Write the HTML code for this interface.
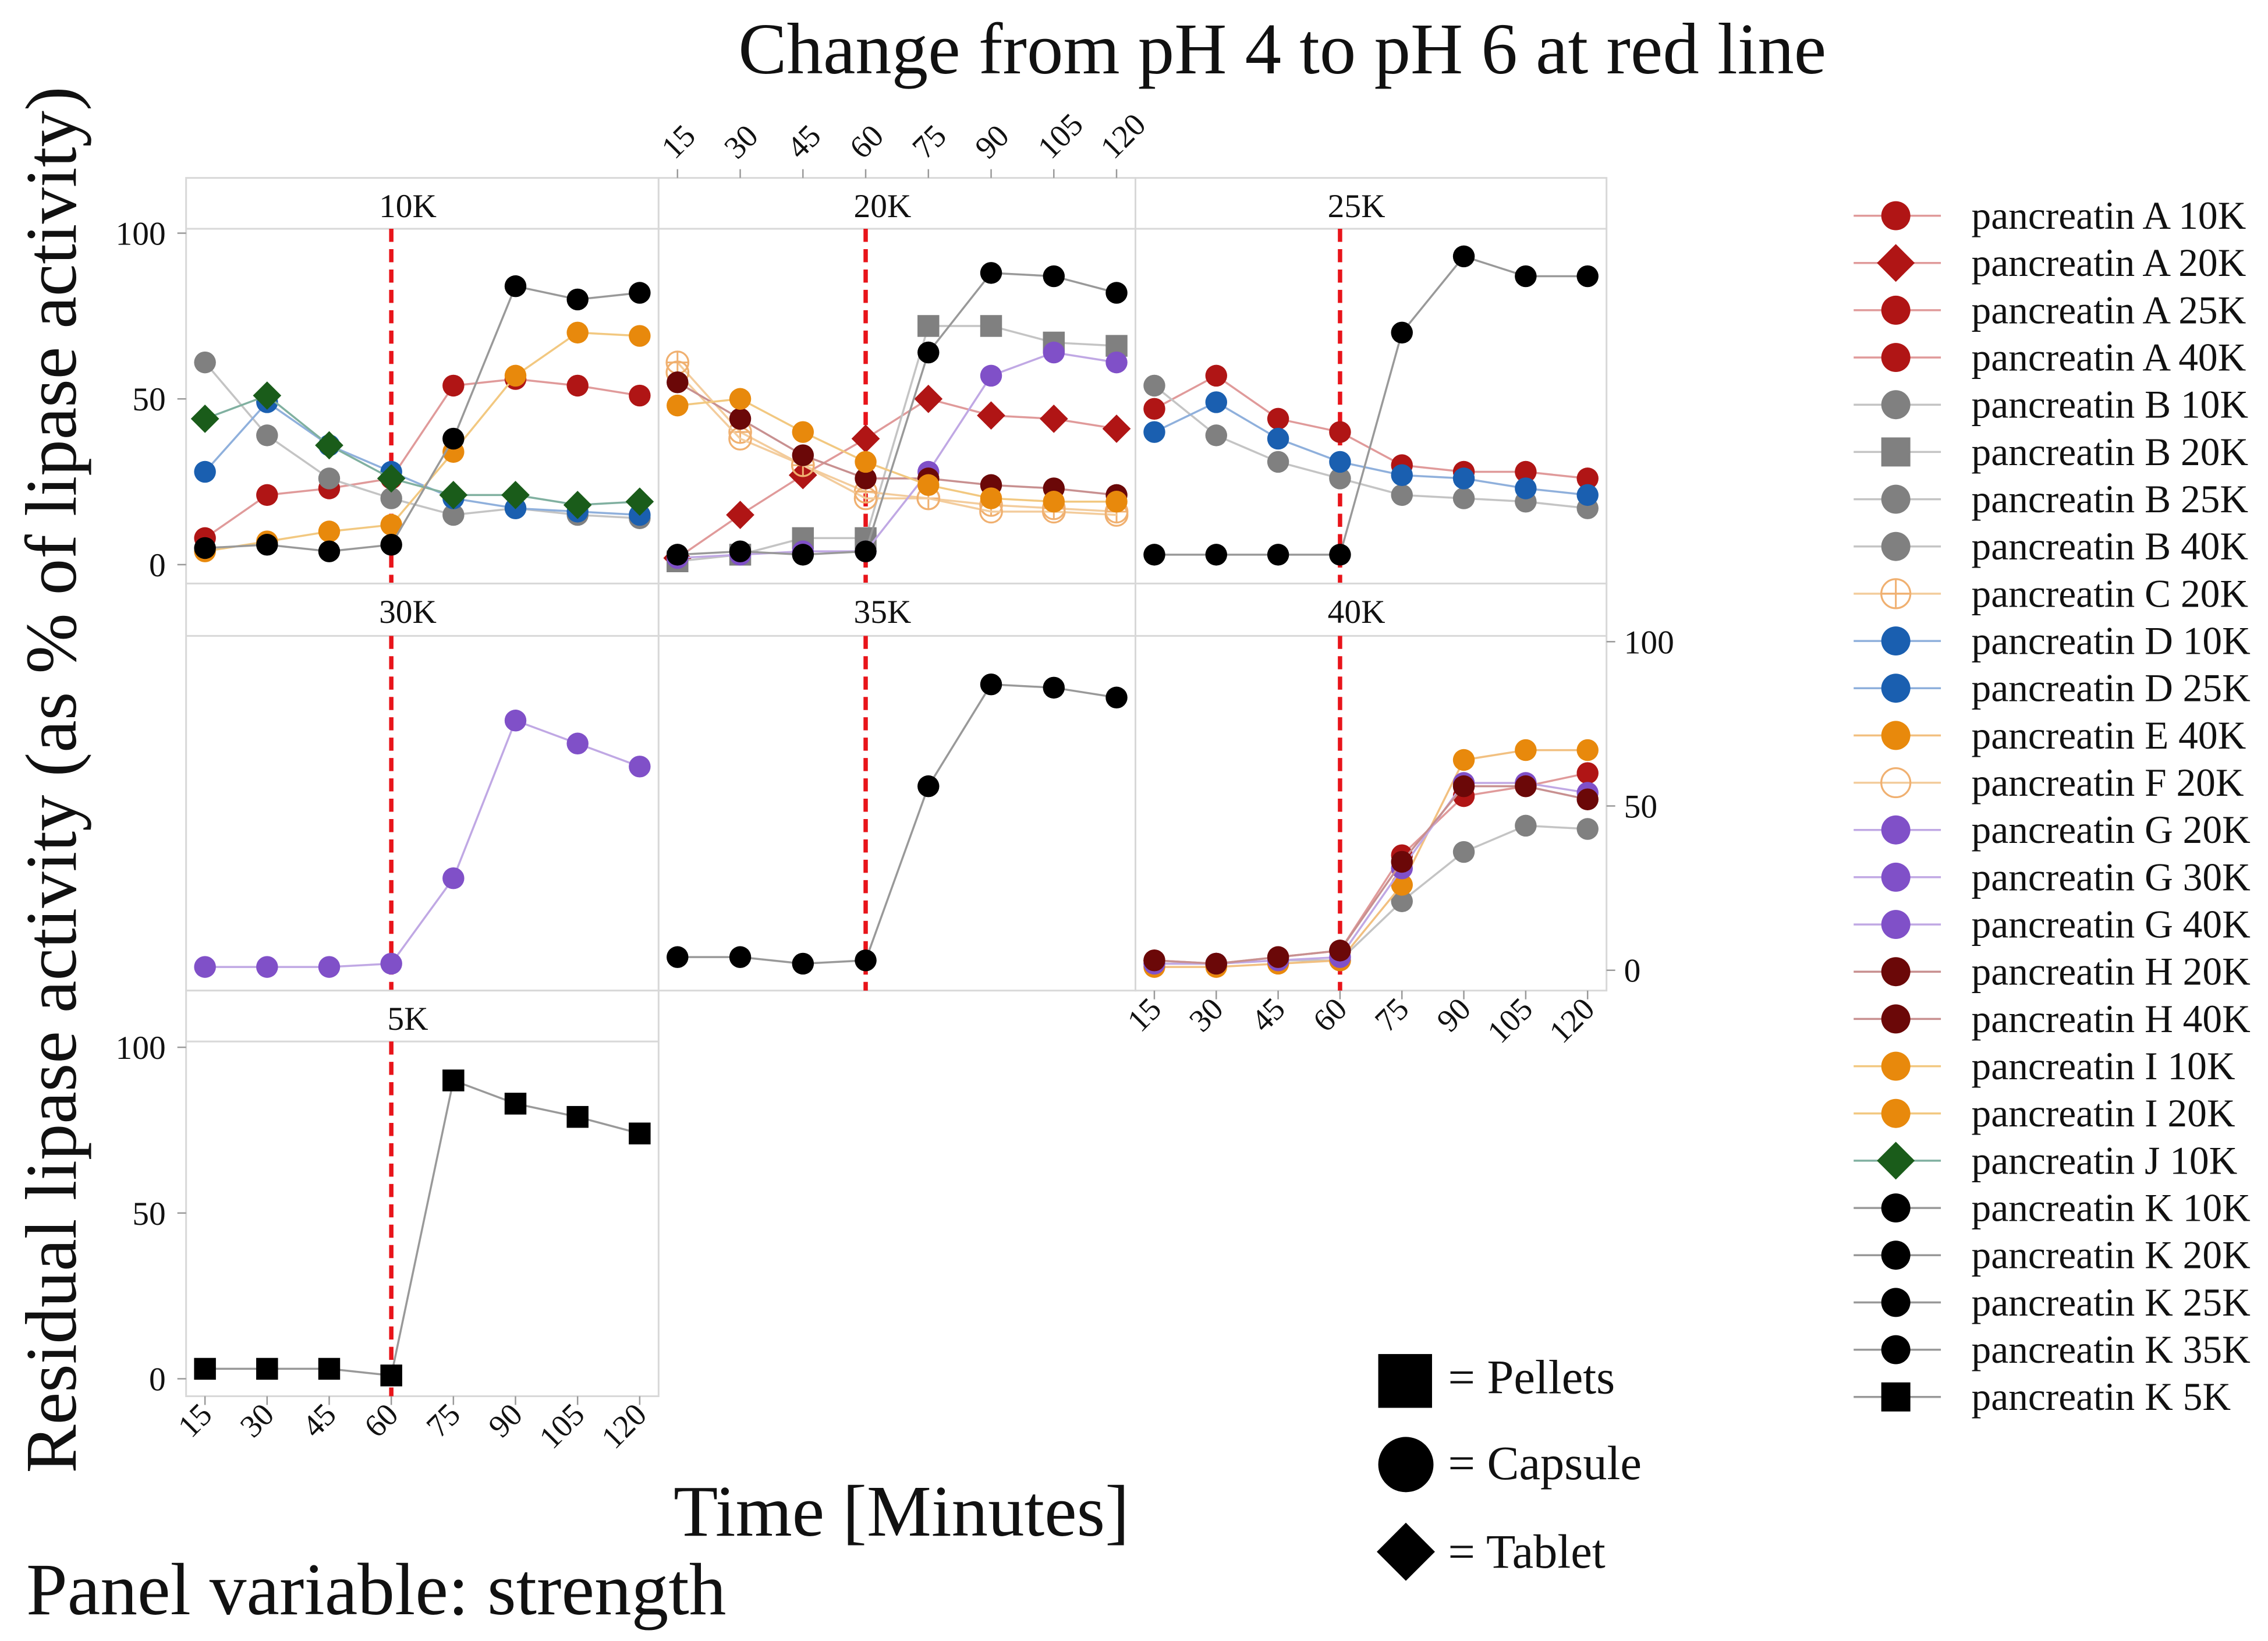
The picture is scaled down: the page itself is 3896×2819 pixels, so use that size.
<!DOCTYPE html>
<html><head><meta charset="utf-8"><style>
html,body{margin:0;padding:0;background:#fff}
svg{display:block}
text{font-family:"Liberation Serif",serif;fill:#111}
</style></head><body>
<svg id="chart" width="3896" height="2819" viewBox="0 0 1560 1128" xmlns="http://www.w3.org/2000/svg">
<rect width="1560" height="1128" fill="#fff"/>
<text x="882" y="50" font-size="50" text-anchor="middle">Change from pH 4 to pH 6 at red line</text>
<text transform="translate(52,536) rotate(-90)" font-size="50" text-anchor="middle">Residual lipase activity (as % of lipase activity)</text>
<text x="620" y="1056" font-size="50" text-anchor="middle">Time [Minutes]</text>
<text x="18" y="1110" font-size="51">Panel variable: strength</text>
<g id="panels"></g>
<g id="marks"></g>
<g id="legend"></g>
<g>
<rect x="948" y="931" width="37" height="37" fill="#000"/>
<text x="996" y="958" font-size="33">= Pellets</text>
<circle cx="967" cy="1007" r="19" fill="#000"/>
<text x="996" y="1017" font-size="33">= Capsule</text>
<path d="M967 1047 L987 1067 L967 1087 L947 1067Z" fill="#000"/>
<text x="996" y="1078" font-size="33">= Tablet</text>
</g>
</svg>
<script>
const minutes=[15,30,45,60,75,90,105,120];
const panelNames=["10K","20K","25K","30K","35K","40K","5K"];
const yTicks=[0,50,100];
const A10=[8,21,23,26,54,56,54,51];
const A20=[2,15,27,38,50,45,44,41];
const A25=[47,57,44,40,30,28,28,26];
const A40=[3,2,4,6,35,53,56,60];
const B10=[61,39,26,20,15,17,15,14];
const B20=[1,3,8,8,72,72,67,66];
const B25=[54,39,31,26,21,20,19,17];
const B40=[2,2,3,3,21,36,44,43];
const C20=[61,40,30,22,20,18,17,16];
const D10=[28,49,36,28,20,17,16,15];
const D25=[40,49,38,31,27,26,23,21];
const E40=[1,1,2,3,26,64,67,67];
const F20=[58,38,30,20,20,16,16,15];
const G20=[2,3,4,4,28,57,64,61];
const G30=[1,1,1,2,28,76,69,62];
const G40=[2,2,3,4,31,57,57,54];
const H20=[55,44,33,26,26,24,23,21];
const H40=[3,2,4,6,33,56,56,52];
const I10=[4,7,10,12,34,57,70,69];
const I20=[48,50,40,31,24,20,19,19];
const J10=[44,51,36,26,21,21,18,19];
const K10=[5,6,4,6,38,84,80,82];
const K20=[3,4,3,4,64,88,87,82];
const K25=[3,3,3,3,70,93,87,87];
const K35=[4,4,2,3,56,87,86,83];
const K5=[3,3,3,1,90,83,79,74];
const series=[
["pancreatin A 10K","10K",A10,"#b01515","#e09a9a","circle"],
["pancreatin A 20K","20K",A20,"#b01515","#e09a9a","diamond"],
["pancreatin A 25K","25K",A25,"#b01515","#e09a9a","circle"],
["pancreatin A 40K","40K",A40,"#b01515","#e09a9a","circle"],
["pancreatin B 10K","10K",B10,"#808080","#c4c4c4","circle"],
["pancreatin B 20K","20K",B20,"#808080","#c4c4c4","square"],
["pancreatin B 25K","25K",B25,"#808080","#c4c4c4","circle"],
["pancreatin B 40K","40K",B40,"#808080","#c4c4c4","circle"],
["pancreatin C 20K","20K",C20,"#f0b070","#f3cc9c","cross"],
["pancreatin D 10K","10K",D10,"#1a5fb0","#8fb0dc","circle"],
["pancreatin D 25K","25K",D25,"#1a5fb0","#8fb0dc","circle"],
["pancreatin E 40K","40K",E40,"#e8890c","#f2c080","circle"],
["pancreatin F 20K","20K",F20,"#f0b070","#f3cc9c","hollow"],
["pancreatin G 20K","20K",G20,"#8050c8","#c0a8e4","circle"],
["pancreatin G 30K","30K",G30,"#8050c8","#c0a8e4","circle"],
["pancreatin G 40K","40K",G40,"#8050c8","#c0a8e4","circle"],
["pancreatin H 20K","20K",H20,"#6b0808","#c89090","circle"],
["pancreatin H 40K","40K",H40,"#6b0808","#c89090","circle"],
["pancreatin I 10K","10K",I10,"#e8890c","#f2c880","circle"],
["pancreatin I 20K","20K",I20,"#e8890c","#f2c880","circle"],
["pancreatin J 10K","10K",J10,"#1a5c1a","#80b0a0","diamond"],
["pancreatin K 10K","10K",K10,"#000","#999","circle"],
["pancreatin K 20K","20K",K20,"#000","#999","circle"],
["pancreatin K 25K","25K",K25,"#000","#999","circle"],
["pancreatin K 35K","35K",K35,"#000","#999","circle"],
["pancreatin K 5K","5K",K5,"#000","#999","square"]
];
const NS="http://www.w3.org/2000/svg";
const colX=[128,453,781,1105];
const rows=[{s:122,t:157,b:401,y100:160,y0:388},{s:401,t:437,b:681,y100:441,y0:667},{s:681,t:716,b:960,y100:720,y0:948}];
const layout={"10K":[0,0],"20K":[1,0],"25K":[2,0],"30K":[0,1],"35K":[1,1],"40K":[2,1],"5K":[0,2]};
function xS(c,m){const x0=colX[c]+13,x1=colX[c+1]-13;return x0+(m-15)/(105)*(x1-x0);}
function yS(r,v){const R=rows[r];return R.y0+(R.y100-R.y0)*v/100;}
function mk(tag,at,parent){const e=document.createElementNS(NS,tag);for(const k in at)e.setAttribute(k,at[k]);parent.appendChild(e);return e;}
const P=document.getElementById("panels"),M=document.getElementById("marks"),L=document.getElementById("legend");
panelNames.forEach(n=>{
 const [c,r]=layout[n],R=rows[r];
 const g=mk("g",{},P);
 
 
 mk("rect",{x:colX[c],y:R.s,width:colX[c+1]-colX[c],height:R.b-R.s,fill:"#fff",stroke:"#d8d8d8","stroke-width":1.2},g);
 mk("line",{x1:colX[c],x2:colX[c+1],y1:R.t,y2:R.t,stroke:"#d8d8d8","stroke-width":1.2},g);
 const t=mk("text",{x:(colX[c]+colX[c+1])/2-10,y:R.s+27,"font-size":23,"text-anchor":"middle"},g);t.textContent=n;
 const xr=xS(c,60);
 const rl=mk("line",{x1:xr,x2:xr,y1:R.t,y2:R.b,stroke:"#e8141a","stroke-width":3,"stroke-dasharray":"9,5"},g);
 
 
});
function yAxis(r,x,right){
 const g=mk("g",{},P);
 
 
 yTicks.forEach(v=>{const y=yS(r,v);
  mk("line",{x1:x,x2:right?x+6:x-6,y1:y,y2:y,stroke:"#999"},g);
  const t=mk("text",{x:right?x+12:x-14,y:y+8,"font-size":23,"text-anchor":right?"start":"end"},g);t.textContent=v;});
}
yAxis(0,128,false);yAxis(2,128,false);yAxis(1,1105,true);
function xAxis(c,y,top){
 const g=mk("g",{},P);
 
 
 minutes.forEach(m=>{const x=xS(c,m);
  mk("line",{x1:x,x2:x,y1:y,y2:top?y-6:y+6,stroke:"#999"},g);
  const ty=top?y-12:y+14;
  const t=mk("text",{transform:`translate(${x+(top?-2:6)},${ty}) rotate(-45)`,"font-size":22,"text-anchor":top?"start":"end"},g);t.textContent=m;});
}
xAxis(1,122,true);xAxis(0,960,false);xAxis(2,681,false);
function marker(shape,x,y,col,s,parent){
 if(shape==="circle")return mk("circle",{cx:x,cy:y,r:s,fill:col},parent);
 if(shape==="square")return mk("rect",{x:x-s,y:y-s,width:2*s,height:2*s,fill:col},parent);
 if(shape==="diamond")return mk("path",{d:`M${x} ${y-s*1.3}L${x+s*1.3} ${y}L${x} ${y+s*1.3}L${x-s*1.3} ${y}Z`,fill:col},parent);
 if(shape==="hollow")return mk("circle",{cx:x,cy:y,r:s,fill:"none",stroke:col,"stroke-width":1.3},parent);
 const g=mk("g",{},parent);mk("circle",{cx:x,cy:y,r:s,fill:"none",stroke:col,"stroke-width":1.3},g);
 mk("path",{d:`M${x-s} ${y}H${x+s}M${x} ${y-s}V${y+s}`,stroke:col,"stroke-width":1.2},g);return g;
}
series.forEach((s,i)=>{
 const [name,pn,vals,col,lc,shape]=s;const [c,r]=layout[pn];
 const g=mk("g",{},M);
 
 
 const pts=vals.map((v,j)=>[xS(c,minutes[j]),yS(r,v)]);
 mk("polyline",{points:pts.map(p=>p.join(",")).join(" "),fill:"none",stroke:lc,"stroke-width":1.4},g);
 pts.forEach(p=>{const m=marker(shape,p[0],p[1],col,7.5,g);
  
  });
 const ly=148+i*32.5;
 const le=mk("g",{},L);
 
 
 mk("line",{x1:1275,x2:1335,y1:ly,y2:ly,stroke:lc,"stroke-width":1.4},le);
 marker(shape,1304,ly,col,10,le);
 const t=mk("text",{x:1356,y:ly+9,"font-size":27},le);t.textContent=name;
});
</script>
</body></html>
